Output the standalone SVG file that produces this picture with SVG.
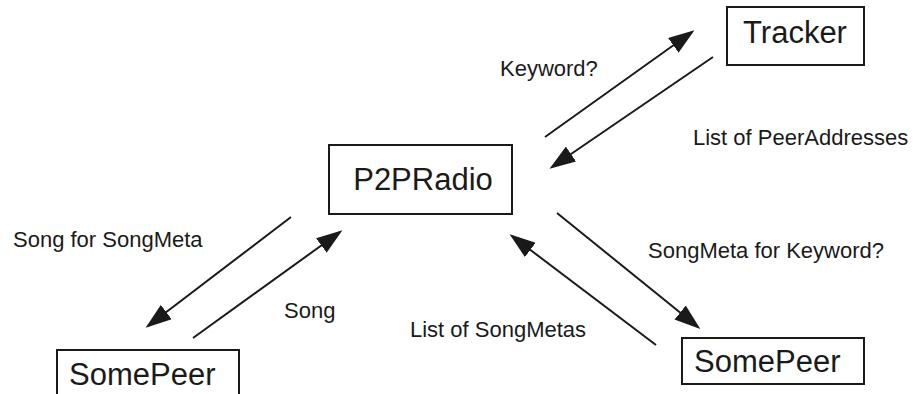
<svg xmlns="http://www.w3.org/2000/svg" width="920" height="394" viewBox="0 0 920 394">
<style>
.box{fill:#fff;stroke:#1a1a1a;stroke-width:2}
.nt{font-family:"Liberation Sans",Arial,sans-serif;font-size:31px;fill:#1a1a1a}
.lb{font-family:"Liberation Sans",Arial,sans-serif;font-size:22px;fill:#1a1a1a}
.ar{stroke:#1a1a1a;stroke-width:2;fill:none;marker-end:url(#ah)}
</style>
<defs>
<marker id="ah" markerUnits="userSpaceOnUse" viewBox="0 0 26 18" markerWidth="26" markerHeight="18" refX="23" refY="9" orient="auto">
<path d="M0,0 L26,9 L0,18 z" fill="#1a1a1a"/>
</marker>
</defs>
<rect width="920" height="394" fill="#fff"/>
<g id="tracker"><rect class="box" x="727" y="7" width="137" height="58"/><text class="nt" x="795" y="43" text-anchor="middle">Tracker</text></g>
<g id="p2pradio"><rect class="box" x="329" y="145" width="183" height="69"/><text class="nt" x="423" y="190" text-anchor="middle">P2PRadio</text></g>
<g id="somepeer-left"><rect class="box" x="57" y="350" width="182" height="50"/><text class="nt" x="69" y="385">SomePeer</text></g>
<g id="somepeer-right"><rect class="box" x="682" y="338" width="182" height="46"/><text class="nt" x="694" y="372">SomePeer</text></g>
<g id="connectors">
<line class="ar" x1="545" y1="137" x2="692" y2="32"/>
<line class="ar" x1="713" y1="57" x2="552" y2="167"/>
<line class="ar" x1="291" y1="217" x2="148" y2="326"/>
<line class="ar" x1="193" y1="338" x2="340" y2="232"/>
<line class="ar" x1="557" y1="213" x2="698" y2="327"/>
<line class="ar" x1="656" y1="345" x2="512" y2="236"/>
</g>
<g id="labels">
<text class="lb" x="500" y="76">Keyword?</text>
<text class="lb" x="693" y="145">List of PeerAddresses</text>
<text class="lb" x="13" y="247">Song for SongMeta</text>
<text class="lb" x="284" y="318">Song</text>
<text class="lb" x="648" y="258">SongMeta for Keyword?</text>
<text class="lb" x="410" y="337">List of SongMetas</text>
</g>
</svg>
